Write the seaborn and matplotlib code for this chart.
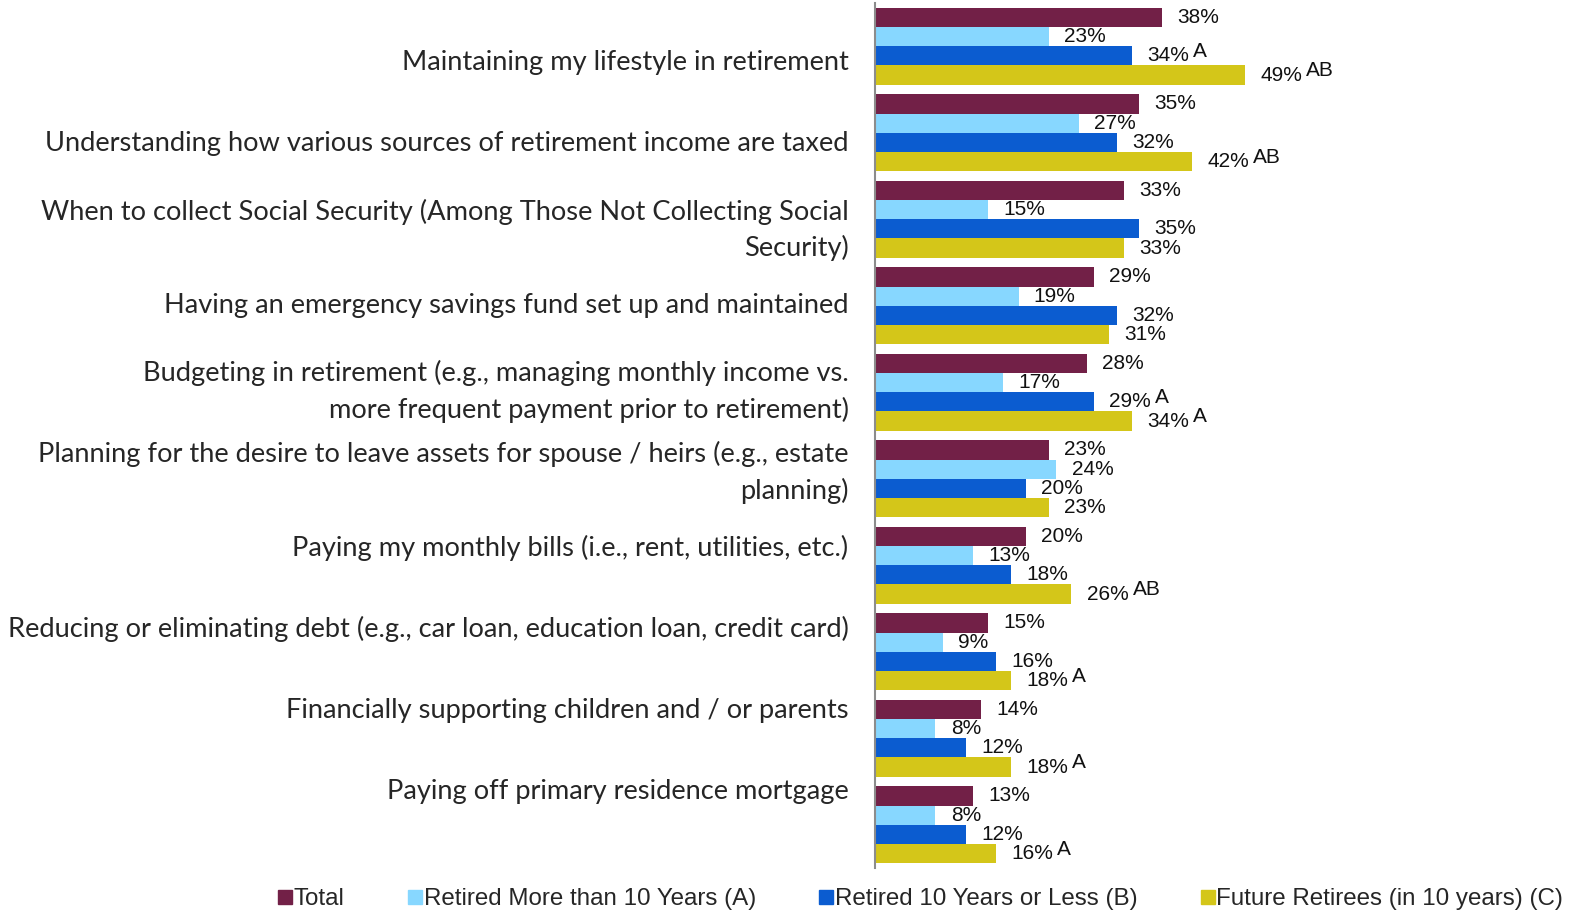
import numpy as np
import pandas as pd
import matplotlib
matplotlib.use("Agg")
import matplotlib.pyplot as plt
from matplotlib.lines import Line2D
import seaborn as sns

categories = [
    "Maintaining my lifestyle in retirement",
    "Understanding how various sources of retirement income are taxed",
    "When to collect Social Security (Among Those Not Collecting Social\nSecurity)",
    "Having an emergency savings fund set up and maintained",
    "Budgeting in retirement (e.g., managing monthly income vs.\nmore frequent payment prior to retirement)",
    "Planning for the desire to leave assets for spouse / heirs (e.g., estate\nplanning)",
    "Paying my monthly bills (i.e., rent, utilities, etc.)",
    "Reducing or eliminating debt (e.g., car loan, education loan, credit card)",
    "Financially supporting children and / or parents",
    "Paying off primary residence mortgage",
]
series = [
    "Total",
    "Retired More than 10 Years (A)",
    "Retired 10 Years or Less (B)",
    "Future Retirees (in 10 years) (C)",
]
total = [38, 35, 33, 29, 28, 23, 20, 15, 14, 13]
retired_over_10 = [23, 27, 15, 19, 17, 24, 13, 9, 8, 8]
retired_10_or_less = [34, 32, 35, 32, 29, 20, 18, 16, 12, 12]
future_retirees = [49, 42, 33, 31, 34, 23, 26, 18, 18, 16]
# significance letters per series (vs. groups A and B)
sig_total = [""] * 10
sig_a = [""] * 10
sig_b = ["A", "", "", "", "A", "", "", "", "", ""]
sig_c = ["AB", "AB", "", "", "A", "", "AB", "A", "A", "A"]

colors = ["#722047", "#87D7FF", "#0B5CD0", "#D4C619"]

values = [total, retired_over_10, retired_10_or_less, future_retirees]
sigs = [sig_total, sig_a, sig_b, sig_c]

df = pd.DataFrame({
    "category": categories * 4,
    "series": np.repeat(series, len(categories)),
    "value": np.concatenate(values),
})

sns.set_theme(style="white")
plt.rcParams["font.family"] = ["Liberation Sans", "DejaVu Sans"]

fig = plt.figure(figsize=(15.7, 9.14), dpi=100)
ax = fig.add_axes([875 / 1570, 1 - 868 / 914, 1 - 875 / 1570, (868 - 3) / 914])

sns.barplot(data=df, y="category", x="value", hue="series", order=categories,
            hue_order=series, palette=colors, orient="h", width=0.89,
            saturation=1, ax=ax, legend=False, edgecolor="none")

ax.set_xlim(0, 92)
ax.set_ylim(len(categories) - 0.5, -0.5)
ax.set_xlabel("")
ax.set_ylabel("")
ax.set_xticks([])

# category labels on an even vertical rhythm
ypos = 0.16 + np.arange(len(categories)) * 0.936
ax.set_yticks(ypos)
ax.set_yticklabels(categories, fontfamily=["Lato", "DejaVu Sans"], fontsize=19.6,
                   ha="right", multialignment="right", linespacing=1.5)
ax.tick_params(axis="y", length=0, pad=19)

for side in ["top", "right", "bottom"]:
    ax.spines[side].set_visible(False)
ax.spines["left"].set_color("#8c8c8c")
ax.spines["left"].set_linewidth(1.5)

for container, sig in zip(ax.containers, sigs):
    labels = [f"{b.get_width():.0f}%" for b in container]
    ax.bar_label(container, labels=labels, padding=11, fontsize=15, color="#111111")
    for bar, letter in zip(container, sig):
        if letter:
            ax.annotate(letter, xy=(bar.get_width(), bar.get_y() + bar.get_height() / 2),
                        xytext=(44, 3), textcoords="offset points",
                        ha="left", va="center", fontsize=15, color="#111111")

handles = [Line2D([0], [0], marker="s", linestyle="none", markersize=10,
                  markerfacecolor=c, markeredgecolor=c) for c in colors]
fig.legend(handles, series, loc="center", bbox_to_anchor=(0.587, 1 - 899 / 914),
           ncol=4, frameon=False, fontsize=17.4, handlelength=0.45, handletextpad=0.12,
           columnspacing=2.7, borderaxespad=0)

fig.savefig("out.png", dpi=100)
